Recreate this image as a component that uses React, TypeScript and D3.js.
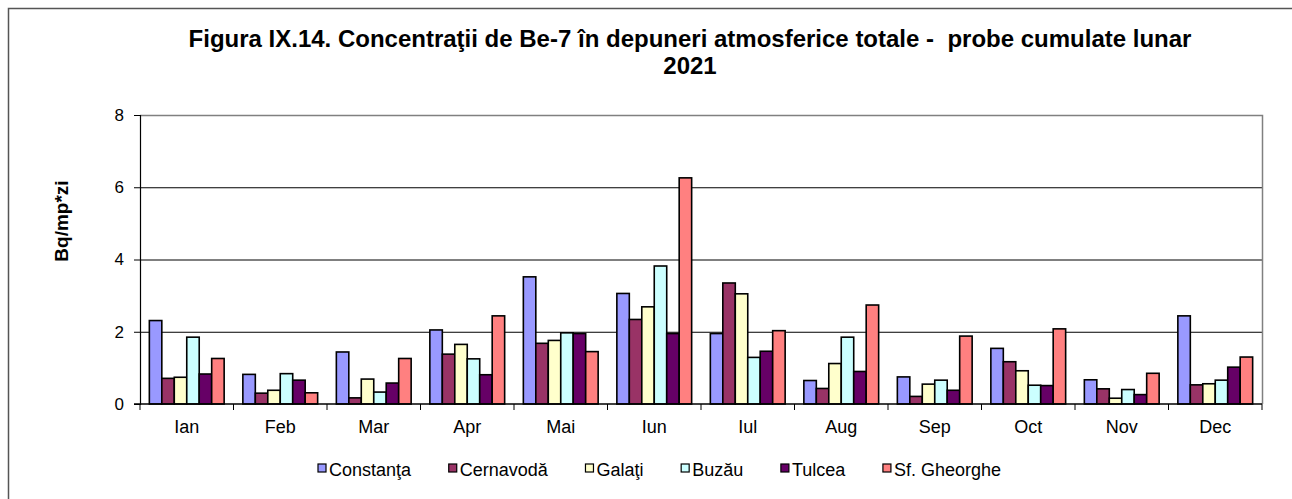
import React, { useEffect, useRef } from 'react';
import * as d3 from 'd3';

const months = ['Ian', 'Feb', 'Mar', 'Apr', 'Mai', 'Iun', 'Iul', 'Aug', 'Sep', 'Oct', 'Nov', 'Dec'];
const stations = ['Constanţa', 'Cernavodă', 'Galaţi', 'Buzău', 'Tulcea', 'Sf. Gheorghe'];
const colors = ['#9999FF', '#993366', '#FFFFCC', '#CCFFFF', '#660066', '#FF8080'];

const constanta = [2.31, 0.82, 1.44, 2.05, 3.52, 3.06, 1.95, 0.65, 0.75, 1.54, 0.67, 2.44];
const cernavoda = [0.71, 0.3, 0.17, 1.38, 1.68, 2.34, 3.35, 0.43, 0.21, 1.17, 0.42, 0.53];
const galati = [0.74, 0.38, 0.69, 1.65, 1.76, 2.69, 3.05, 1.12, 0.55, 0.92, 0.16, 0.56];
const buzau = [1.85, 0.84, 0.33, 1.25, 1.97, 3.82, 1.29, 1.85, 0.66, 0.52, 0.4, 0.66];
const tulcea = [0.83, 0.66, 0.58, 0.81, 1.95, 1.95, 1.46, 0.9, 0.38, 0.51, 0.26, 1.02];
const sfGheorghe = [1.26, 0.31, 1.26, 2.44, 1.45, 6.26, 2.03, 2.74, 1.88, 2.08, 0.85, 1.3];

const seriesValues = [constanta, cernavoda, galati, buzau, tulcea, sfGheorghe];
const yTicks = [0, 2, 4, 6, 8];

const titleLines = [
  'Figura IX.14. Concentraţii de Be-7 în depuneri atmosferice totale -  probe cumulate lunar',
  '2021',
];
const yTitle = 'Bq/mp*zi';

const FONT = '"Liberation Sans", Arial, sans-serif';

const App = () => {
  const svgRef = useRef<SVGSVGElement>(null);

  useEffect(() => {
    const svg = d3.select(svgRef.current);
    svg.selectAll('*').remove();

    const width = 1292;
    const height = 499;
    const plot = { left: 140, right: 1262, top: 115, bottom: 404 };

    // outer chart border (runs past the picture on the right and bottom)
    svg
      .append('rect')
      .attr('x', 8.5)
      .attr('y', 8.5)
      .attr('width', width + 20)
      .attr('height', height + 20)
      .attr('fill', '#fff')
      .attr('stroke', '#555')
      .attr('stroke-width', 1.5);

    const x = d3.scaleBand<string>().domain(months).range([plot.left, plot.right]);
    const xInner = d3
      .scaleBand<number>()
      .domain(d3.range(stations.length))
      .range([0, x.bandwidth()])
      .paddingInner(0)
      .paddingOuter(0.75);
    const y = d3.scaleLinear().domain([0, 8]).range([plot.bottom, plot.top]);

    // title
    const title = svg
      .append('text')
      .attr('x', 690)
      .attr('text-anchor', 'middle')
      .attr('font-family', FONT)
      .attr('font-weight', 'bold')
      .attr('font-size', 24)
      .style('white-space', 'pre');
    titleLines.forEach((t, i) => {
      title.append('tspan').attr('x', 690).attr('y', 47 + i * 27).text(t);
    });

    // gridlines
    svg
      .append('g')
      .selectAll('line')
      .data(yTicks.filter((d) => d > 0 && d < 8))
      .join('line')
      .attr('x1', plot.left)
      .attr('x2', plot.right)
      .attr('y1', (d) => y(d) + 0.5)
      .attr('y2', (d) => y(d) + 0.5)
      .attr('stroke', '#000')
      .attr('stroke-width', 1);

    // plot area border (top + right in grey)
    svg
      .append('path')
      .attr('d', `M${plot.left},${plot.top + 0.5}H${plot.right + 0.5}V${plot.bottom}`)
      .attr('fill', 'none')
      .attr('stroke', '#808080')
      .attr('stroke-width', 1.5);

    // bars
    svg
      .append('g')
      .selectAll('g')
      .data(seriesValues)
      .join('g')
      .attr('fill', (_, i) => colors[i])
      .each(function (vals, si) {
        d3.select(this)
          .selectAll('rect')
          .data(vals)
          .join('rect')
          .attr('x', (_, mi) => (x(months[mi]) as number) + (xInner(si) as number))
          .attr('y', (d) => y(d))
          .attr('width', xInner.bandwidth())
          .attr('height', (d) => y(0) - y(d))
          .attr('stroke', '#000')
          .attr('stroke-width', 1.6);
      });

    // y axis
    const yAxis = d3
      .axisLeft(y)
      .tickValues(yTicks)
      .tickSize(6)
      .tickPadding(10)
      .tickFormat(d3.format('d'));
    const gy = svg.append('g').attr('transform', `translate(${plot.left},0)`).call(yAxis);
    gy.select('.domain').attr('stroke', '#000').attr('stroke-width', 1.2);
    gy.selectAll('.tick line').attr('stroke', '#000');
    gy.selectAll('.tick text')
      .attr('font-family', FONT)
      .attr('font-size', 17)
      .attr('fill', '#000');

    // x axis
    const gx = svg.append('g').attr('transform', `translate(0,${plot.bottom})`);
    gx.append('line')
      .attr('x1', plot.left - 6)
      .attr('x2', plot.right)
      .attr('stroke', '#000')
      .attr('stroke-width', 1.5);
    gx.selectAll('line.tk')
      .data(months.concat(['end']))
      .join('line')
      .attr('class', 'tk')
      .attr('x1', (_, i) => (i < months.length ? (x(months[i]) as number) : plot.right))
      .attr('x2', (_, i) => (i < months.length ? (x(months[i]) as number) : plot.right))
      .attr('y1', 0)
      .attr('y2', 6)
      .attr('stroke', '#000');
    gx.selectAll('text')
      .data(months)
      .join('text')
      .attr('x', (d) => (x(d) as number) + x.bandwidth() / 2)
      .attr('y', 29)
      .attr('text-anchor', 'middle')
      .attr('font-family', FONT)
      .attr('font-size', 18)
      .text((d) => d);

    // y title
    svg
      .append('text')
      .attr('transform', `translate(68,221) rotate(-90)`)
      .attr('text-anchor', 'middle')
      .attr('font-family', FONT)
      .attr('font-weight', 'bold')
      .attr('font-size', 19)
      .text(yTitle);

    // legend
    const legend = svg.append('g');
    const items = legend
      .selectAll('g')
      .data(stations)
      .join('g');
    items
      .append('rect')
      .attr('width', 8)
      .attr('height', 8)
      .attr('y', -12)
      .attr('fill', (_, i) => colors[i])
      .attr('stroke', '#000')
      .attr('stroke-width', 1.2);
    items
      .append('text')
      .attr('x', 11)
      .attr('font-family', FONT)
      .attr('font-size', 18)
      .text((d) => d);
    const widths: number[] = [];
    items.each(function () {
      widths.push(11 + (d3.select(this).select('text').node() as SVGTextElement).getComputedTextLength());
    });
    const start = 318;
    const end = 1001;
    const gap = (end - start - d3.sum(widths)) / (widths.length - 1);
    let cx = start;
    items.attr('transform', (_, i) => {
      const t = `translate(${cx},476)`;
      cx += widths[i] + gap;
      return t;
    });
  }, []);

  return (
    <svg
      ref={svgRef}
      width={1292}
      height={499}
      style={{ position: 'absolute', left: 0, top: 0, background: '#fff' }}
    />
  );
};

export default App;
